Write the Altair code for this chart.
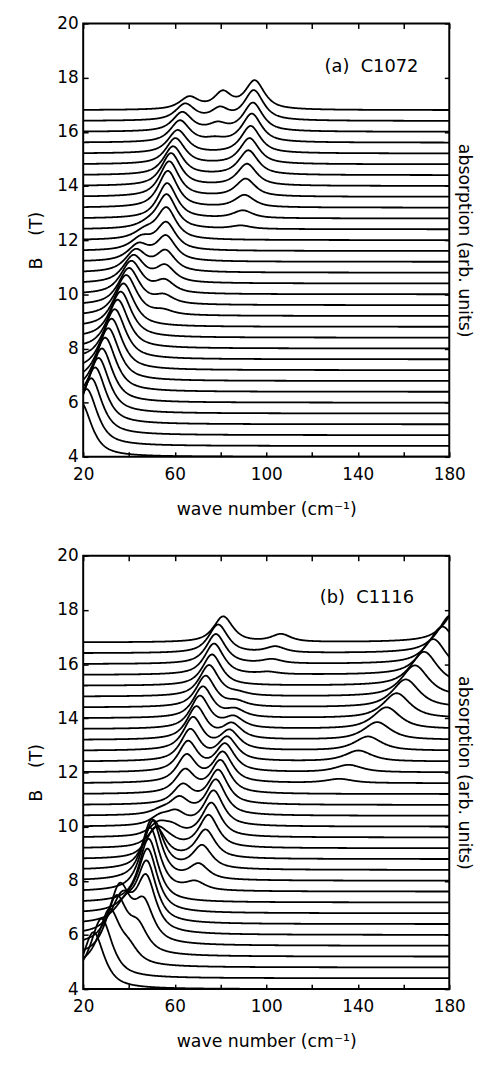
import numpy as np
import pandas as pd
import altair as alt

N = None

# Magnetic field of each trace baseline (T), bottom to top
FIELDS = [4.0, 4.4, 4.8, 5.2, 5.6, 6.0, 6.4, 6.8, 7.2, 7.6, 8.0, 8.4, 8.8, 9.2, 9.6, 10.0,
          10.4, 10.8, 11.2, 11.6, 12.0, 12.4, 12.8, 13.2, 13.6, 14.0, 14.4, 14.8, 15.2,
          15.6, 16.0, 16.4, 16.8]

# ---- panel (a) C1072: absorption peaks per trace (centre cm^-1, height in T units)
A_P1_C = [19.0, 21.5, 23.5, 25.2, 26.7, 28.2, 29.6, 31.0, 32.4, 33.8, 35.1, 36.4, 37.6, 38.8,
          40.0, 41.0, 42.0, 43.0, 44.2, 45.5, 47.0, 48.5, N, N, N, N, N, N, N, N, N, N, N]
A_P1_A = [2.0, 2.1, 2.1, 2.1, 2.05, 2.0, 2.0, 1.95, 1.9, 1.85, 1.8, 1.7, 1.6, 1.5,
          1.35, 1.2, 1.0, 0.8, 0.6, 0.45, 0.3, 0.15, N, N, N, N, N, N, N, N, N, N, N]
A_P2_C = [N, N, N, N, N, N, N, N, N, N, N, N, N, 55.0, 55.3, 55.6, 55.8, 56.0, 56.2, 56.3,
          56.4, 56.5, 56.7, 57.0, 57.6, 58.4, 59.3, 60.3, 61.3, 62.3, 63.3, 64.6, 66.4]
A_P2_A = [N, N, N, N, N, N, N, N, N, N, N, N, N, 0.15, 0.3, 0.45, 0.6, 0.75, 0.9, 1.0,
          1.15, 1.25, 1.3, 1.35, 1.3, 1.2, 1.05, 0.95, 0.85, 0.8, 0.7, 0.6, 0.45]
A_P3_C = [N, N, N, N, N, N, N, N, N, N, N, N, N, N, N, N, N, N, N, N, N, N, N, N, N, N, N, N,
          N, 77.5, 78.8, 79.8, 81.0]
A_P3_A = [N, N, N, N, N, N, N, N, N, N, N, N, N, N, N, N, N, N, N, N, N, N, N, N, N, N, N, N,
          N, 0.1, 0.25, 0.4, 0.6]
A_P4_C = [N, N, N, N, N, N, N, N, N, N, N, N, N, N, N, N, N, N, N, N, N, 89.0, 89.8, 90.5,
          91.0, 91.6, 92.2, 92.7, 93.2, 93.7, 94.2, 94.6, 95.0]
A_P4_A = [N, N, N, N, N, N, N, N, N, N, N, N, N, N, N, N, N, N, N, N, N, 0.12, 0.28, 0.45,
          0.65, 0.8, 0.9, 0.95, 1.0, 1.05, 1.05, 1.1, 1.05]
A_WIDTHS = [5.5, 5.0, 4.5, 5.0]

# ---- panel (b) C1116
B_P1_C = [24.5, 28.0, 31.5, 34.5, 36.0, 37.0, 38.5, 40.0, N, N, N, N, N, N, N, N, N, N, N, N,
          N, N, N, N, N, N, N, N, N, N, N, N, N]
B_P1_A = [2.1, 2.2, 2.05, 2.1, 2.1, 1.3, 0.65, 0.3, N, N, N, N, N, N, N, N, N, N, N, N,
          N, N, N, N, N, N, N, N, N, N, N, N, N]
B_P2_C = [N, N, 40.0, 44.0, 46.5, 47.5, 47.8, 48.2, 48.6, 49.2, 50.0, 50.8, 51.8, 52.5, 53.0,
          53.5, 54.0, N, N, N, N, N, N, N, N, N, N, N, N, N, N, N, N]
B_P2_A = [N, N, 0.5, 0.9, 1.4, 2.0, 2.2, 2.3, 2.35, 2.35, 2.25, 1.8, 1.15, 0.7, 0.45,
          0.3, 0.15, N, N, N, N, N, N, N, N, N, N, N, N, N, N, N, N]
B_P3_C = [N, N, N, N, N, N, N, N, N, N, N, N, N, 58.0, 59.0, 60.5, 62.0, 63.5, 64.5, 65.2,
          65.8, 66.8, 68.0, 69.5, 71.0, 72.3, 73.5, 75.0, 76.3, 77.2, 78.0, 79.0, 81.2]
B_P3_A = [N, N, N, N, N, N, N, N, N, N, N, N, N, 0.15, 0.3, 0.45, 0.6, 0.7, 0.85, 1.0,
          1.1, 1.15, 1.2, 1.2, 1.2, 1.15, 1.15, 1.15, 1.15, 1.15, 1.1, 1.05, 0.95]
B_P4_C = [N, N, N, N, N, N, N, N, N, 69.0, 70.5, 72.0, 73.5, 74.8, 76.0, 77.0, 78.0, 79.0,
          80.0, 81.0, 82.0, 83.0, 84.0, 85.0, 85.8, 86.4, 87.0, 87.5, N, N, N, N, N]
B_P4_A = [N, N, N, N, N, N, N, N, N, 0.3, 0.55, 0.85, 1.05, 1.2, 1.25, 1.3, 1.3, 1.25,
          1.2, 1.1, 1.0, 0.85, 0.7, 0.55, 0.4, 0.28, 0.18, 0.1, N, N, N, N, N]
B_P5_C = [N, N, N, N, N, N, N, N, N, N, N, N, N, N, N, N, N, N, N, N, N, N, N, N, N, N, N, N,
          N, 101.0, 102.5, 104.0, 106.5]
B_P5_A = [N, N, N, N, N, N, N, N, N, N, N, N, N, N, N, N, N, N, N, N, N, N, N, N, N, N, N, N,
          N, 0.08, 0.15, 0.22, 0.28]
B_P6_C = [N, N, N, N, N, N, N, N, N, N, N, N, N, N, N, N, N, N, N, 132.0, 136.0, 140.3, 144.5,
          148.5, 152.6, 157.0, 161.0, 165.0, 169.0, 173.0, 177.0, 181.0, 185.0]
B_P6_A = [N, N, N, N, N, N, N, N, N, N, N, N, N, N, N, N, N, N, N, 0.15, 0.27, 0.4, 0.52,
          0.65, 0.8, 0.92, 1.03, 1.15, 1.25, 1.32, 1.38, 1.42, 1.45]
B_WIDTHS = [5.5, 5.0, 5.0, 5.0, 5.0, 7.0]

LORENTZ_FRACTION = 0.8
WN_RANGE = [20, 180]
B_RANGE = [4, 20]
X_TICKS = [20, 40, 60, 80, 100, 120, 140, 160, 180]
Y_TICKS = [4, 6, 8, 10, 12, 14, 16, 18, 20]
NB = "\u00a0"
LABELS = ["(a)" + NB * 2 + "C1072", "(b)" + NB * 2 + "C1116"]
LABEL_WN = [146, 144]
LABEL_B = [18.4, 18.45]


def spectra(modes, widths):
    wn = np.arange(20, 180.001, 0.25)
    frames = []
    for i, b in enumerate(FIELDS):
        y = np.full_like(wn, b, dtype=float)
        for (cs, amps), w in zip(modes, widths):
            c, a = cs[i], amps[i]
            if c is None:
                continue
            u = (wn - c) / w
            y = y + a * (LORENTZ_FRACTION / (1 + u * u)
                         + (1 - LORENTZ_FRACTION) * np.exp(-np.log(2) * u * u))
        frames.append(pd.DataFrame({"wn": wn, "val": y, "trace": i}))
    return pd.concat(frames, ignore_index=True)


df_a = spectra([(A_P1_C, A_P1_A), (A_P2_C, A_P2_A), (A_P3_C, A_P3_A), (A_P4_C, A_P4_A)], A_WIDTHS)
df_b = spectra([(B_P1_C, B_P1_A), (B_P2_C, B_P2_A), (B_P3_C, B_P3_A), (B_P4_C, B_P4_A),
                (B_P5_C, B_P5_A), (B_P6_C, B_P6_A)], B_WIDTHS)

FONT = "DejaVu Sans"
tick_style = dict(domain=False, tickSize=5, offset=-5, tickColor="black", tickWidth=1.5,
                  grid=False, labelOverlap=False)


def panel(df, k):
    xs = alt.Scale(domain=WN_RANGE, nice=False, zero=False)
    ys = alt.Scale(domain=B_RANGE, nice=False, zero=False)
    lines = alt.Chart(df).mark_line(color="black", strokeWidth=1.8, clip=True).encode(
        x=alt.X("wn:Q", scale=xs, axis=alt.Axis(
            orient="bottom", values=X_TICKS, labelFlush=False,
            labelExpr="datum.value % 40 == 20 ? datum.label : ''",
            title="wave number (cm\u207b\u00b9)", labelPadding=10, titlePadding=18, **tick_style)),
        y=alt.Y("val:Q", scale=ys, axis=alt.Axis(
            orient="left", values=Y_TICKS, labelFlush=False, title="B" + NB * 4 + "(T)",
            labelPadding=5, titlePadding=12, **tick_style)),
        detail="trace:N",
    )
    frame = alt.Chart(pd.DataFrame({"wn": WN_RANGE, "val": B_RANGE})).mark_point(opacity=0).encode(
        x=alt.X("wn:Q", scale=xs, axis=alt.Axis(orient="top", values=X_TICKS, labels=False,
                                                 title=None, **tick_style)),
        y=alt.Y("val:Q", scale=ys, axis=alt.Axis(orient="right", values=Y_TICKS, labels=False,
                                                  title="absorption (arb. units)", titlePadding=5,
                                                  **tick_style)),
    )
    label = alt.Chart(pd.DataFrame({"wn": [LABEL_WN[k]], "val": [LABEL_B[k]], "t": [LABELS[k]]})).mark_text(
        font=FONT, fontSize=18, color="black").encode(
        x=alt.X("wn:Q", scale=xs, axis=None),
        y=alt.Y("val:Q", scale=ys, axis=None),
        text="t:N",
    )
    return alt.layer(lines, frame, label).resolve_axis(x="independent", y="independent").properties(
        width=370, height=438)


chart = alt.vconcat(panel(df_a, 0), panel(df_b, 1), spacing=27).properties(
    padding={"left": 18, "top": 0, "right": 0, "bottom": 0}
).configure_view(stroke="black", strokeWidth=2).configure_axis(
    labelFont=FONT, labelFontSize=17, labelColor="black",
    titleFont=FONT, titleFontSize=17.5, titleFontWeight="normal", titleColor="black",
)

chart.save("out.html", embed_options={"renderer": "svg", "actions": False})
